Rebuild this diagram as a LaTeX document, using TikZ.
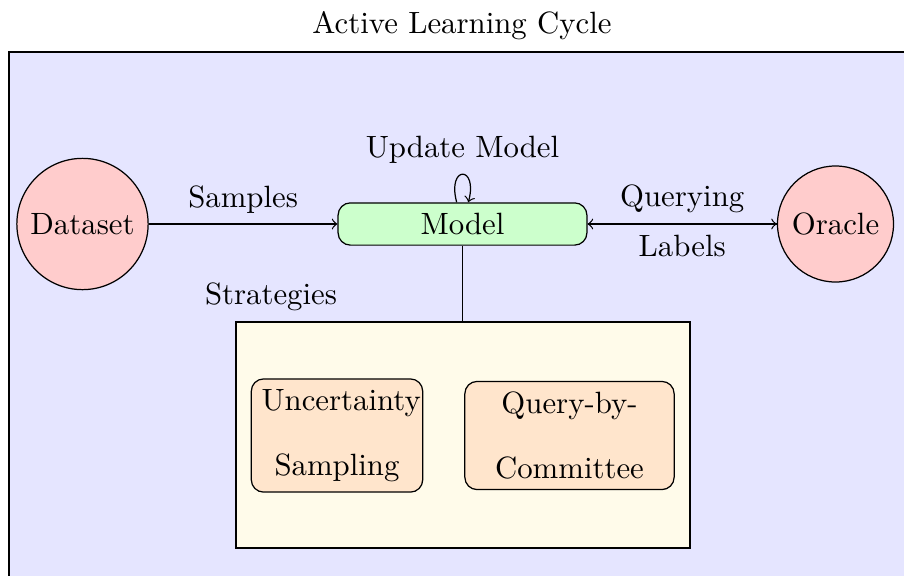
\documentclass[tikz,border=0pt]{standalone}
\usetikzlibrary{arrows}
\definecolor{creamfill}{RGB}{255,251,234}
\begin{document}
\begin{tikzpicture}[x=0.3247pt,y=-0.3247pt,
  every node/.style={font=\normalsize},
  endpoint/.style={circle,draw,fill=red!20},
  modelbox/.style={rectangle,rounded corners,draw,fill=green!20,minimum width=80.8pt},
  groupbox/.style={rectangle,draw,fill=creamfill,minimum width=147.4pt,minimum height=73.4pt},
  methodbox/.style={rectangle,rounded corners,draw,fill=orange!20,align=center,
    font={\fontsize{10}{21.2}\selectfont}}]
  \useasboundingbox (0,0) rectangle (904,575);

  % background panel
  \draw[fill=blue!10] (9,52) rectangle (980,640);

  % title
  \node[anchor=base] (title) at (462,33) {Active Learning Cycle};

  % main nodes
  \node[endpoint] (dataset) at (82.5,224) {Dataset};
  \node[endpoint] (oracle) at (835.5,224) {Oracle};
  \node[modelbox] (model) at (462.5,224) {Model};

  % strategy group
  \node[groupbox] (strat) at (463,435) {};
  \node[anchor=base] (stratlabel) at (271,304) {Strategies};
  \node[methodbox,text width=49pt] (unc) at (337,435.5) {Uncertainty\\Sampling};
  \node[methodbox,text width=61.3pt] (qbc) at (569.5,435.5) {Query-by-\\Committee};

  % connectors
  \draw[->] (dataset) -- node[above] {Samples} (model);
  \draw[->] (model) -- node[above] {Querying} (oracle);
  \draw[->] (oracle) -- node[below] {Labels} (model);
  \draw[->] (model) to[loop above,min distance=4.4mm] node[above] {Update Model} (model);
  \draw (model.south) -- (model.south |- strat.north);
\end{tikzpicture}
\end{document}
